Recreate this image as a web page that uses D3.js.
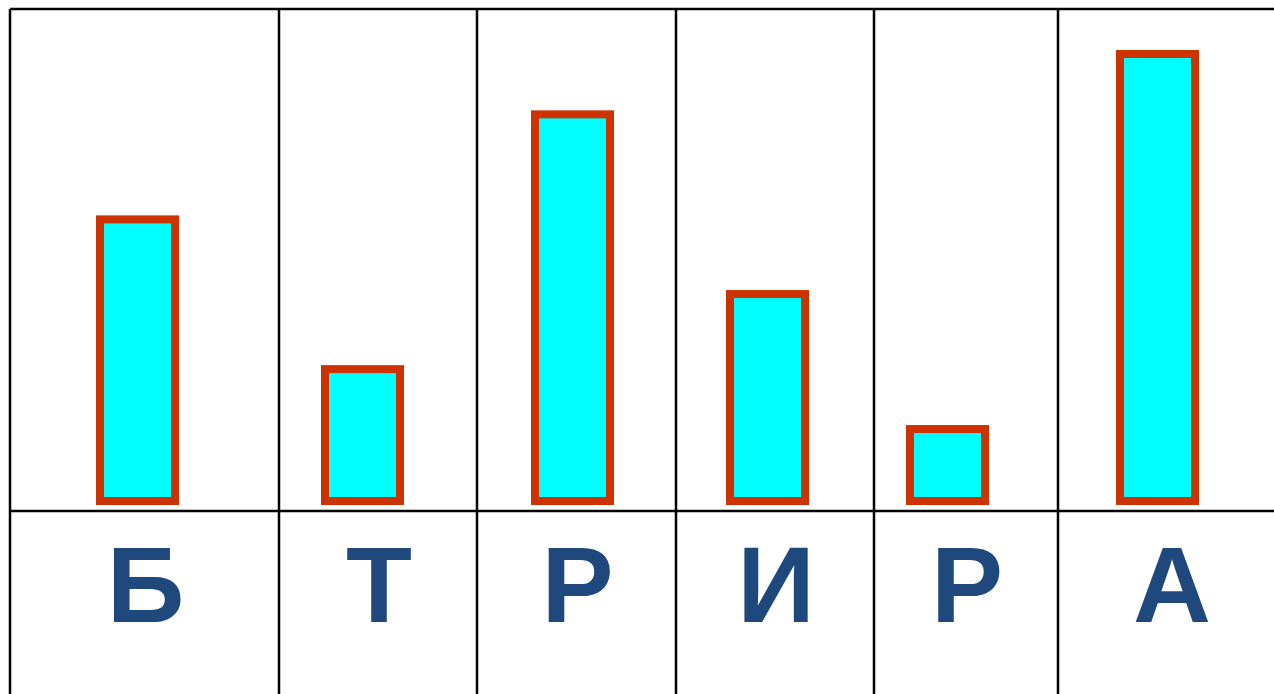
<!DOCTYPE html>
<html><head><meta charset="utf-8">
<script src="https://cdn.jsdelivr.net/npm/d3@7"></script>
<style>html,body{margin:0;padding:0;background:#fff;overflow:hidden}</style>
</head><body>
<svg id="c" width="1274" height="694"></svg>
<script>
const letters = ["Б", "Т", "Р", "И", "Р", "А"];
const values = [6.3, 2.95, 8.65, 4.63, 1.61, 10];

// layout (hand-drawn table)
const colEdges = [10, 279, 477, 676, 874, 1058, 1284];
const barCenters = [137.5, 362.5, 572.5, 767.5, 947.5, 1157.5];
const topY = 9, midY = 511, baseY = 501, H = 694, W = 1274;

const svg = d3.select("#c");
const idx = letters.map((d, i) => i);
const xBar = d3.scaleOrdinal().domain(idx).range(barCenters);
const xLab = d3.scaleOrdinal().domain(idx).range(idx.map(i => (colEdges[i] + colEdges[i + 1]) / 2 + 1));
const y = d3.scaleLinear().domain([0, 10]).range([baseY, 54]);
const bw = 75;

// grid
const g = svg.append("g").attr("stroke", "#000").attr("stroke-width", 2.5);
g.append("line").attr("x1", colEdges[0]).attr("x2", W).attr("y1", topY).attr("y2", topY);
g.append("line").attr("x1", colEdges[0]).attr("x2", W).attr("y1", midY).attr("y2", midY);
g.selectAll("line.v").data(colEdges.slice(0, 6)).join("line").attr("class", "v")
  .attr("x1", d => d).attr("x2", d => d).attr("y1", topY).attr("y2", H);

// bars
svg.selectAll("rect.bar").data(values).join("rect").attr("class", "bar")
  .attr("x", (d, i) => xBar(i) - bw / 2)
  .attr("width", bw)
  .attr("y", d => y(d))
  .attr("height", d => baseY - y(d))
  .attr("fill", "#00FFFF")
  .attr("stroke", "#CC3300")
  .attr("stroke-width", 8);

// letters
svg.selectAll("text.lab").data(letters).join("text").attr("class", "lab")
  .attr("x", (d, i) => xLab(i))
  .attr("y", 622)
  .attr("text-anchor", "middle")
  .attr("font-family", "'Liberation Sans', Arial, sans-serif")
  .attr("font-weight", "bold")
  .attr("font-size", 108)
  .attr("fill", "#1F497D")
  .text(d => d);
</script>
</body></html>
